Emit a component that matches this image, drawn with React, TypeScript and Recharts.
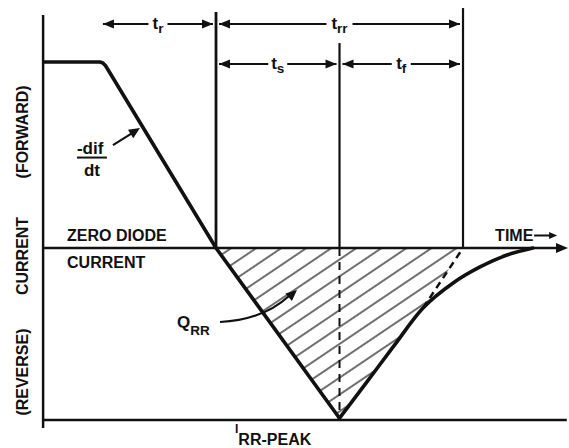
import React from 'react';
import { ComposedChart, Line, Area, XAxis, YAxis, ReferenceLine, ReferenceDot } from 'recharts';

// time is in units of t_rr (0 = current crosses zero), current in units of I_F
const fallData = [
  { t: -0.7, i: 1.0 },
  { t: -0.47, i: 1.0 },
  { t: -0.458, i: 0.995 },
  { t: -0.447, i: 0.98 },
  { t: 0, i: 0 },
  { t: 0.5, i: -0.915 },
];

const recoveryData = [
  { t: 0.5, i: -0.915 },
  { t: 0.611, i: -0.72 },
  { t: 0.717, i: -0.532 },
  { t: 0.838, i: -0.323 },
  { t: 0.96, i: -0.188 },
  { t: 1.069, i: -0.102 },
  { t: 1.178, i: -0.038 },
  { t: 1.283, i: 0 },
];

// straight-line extrapolation to the end of t_f
const extrapolated = [
  { t: 0.838, i: -0.323 },
  { t: 1.0, i: 0 },
];

// stored charge area
const qrrData = [
  { t: 0, i: 0 },
  { t: 0.5, i: -0.915 },
  { t: 0.838, i: -0.323 },
  { t: 1.0, i: 0 },
];

const I_PEAK = -0.915;
const intervalNames = ['r', 'rr', 's', 'f'];
const intervalStart = [-0.47, 0, 0, 0.5];
const intervalEnd = [0, 1.0, 0.5, 1.0];
const intervalRow = [0, 0, 1, 1];

const ROW_Y = [1.204, 0.989];
const X_DOMAIN = [-0.8745, 1.4291];
const Y_DOMAIN = [-1.0753, 1.3333];
const INK = '#111';
const FONT = '"Liberation Sans", Arial, Helvetica, sans-serif';

const txt = { fontFamily: FONT, fontWeight: 700, fill: INK } as const;

const head = (x: number, y: number, dx: number, dy: number, len = 11, half = 4.5) => {
  const d = Math.hypot(dx, dy);
  const ux = dx / d, uy = dy / d;
  const bx = x - ux * len, by = y - uy * len;
  return `${x},${y} ${bx - uy * half},${by + ux * half} ${bx + uy * half},${by - ux * half}`;
};

const dimArrow = (sub: string) => (p: any) => {
  const a = p.x1 + 3;
  const b = p.x2 - 3;
  const y = p.y1;
  const mid = (a + b) / 2;
  const w = sub.length > 1 ? 26 : 19;
  return (
    <g>
      <line x1={a} y1={y} x2={b} y2={y} stroke={INK} strokeWidth={2} />
      <polygon points={head(a, y, -1, 0, 11, 4.5)} fill={INK} />
      <polygon points={head(b, y, 1, 0, 11, 4.5)} fill={INK} />
      <rect x={mid - w / 2} y={y - 11} width={w} height={24} fill="#fff" />
      <text x={mid} y={y + 5} textAnchor="middle" fontSize={17} {...txt}>
        t<tspan fontSize={13.5} dy={4}>{sub}</tspan>
      </text>
    </g>
  );
};

const timeAxis = (p: any) => (
  <g>
    <line x1={p.x1} y1={p.y1} x2={p.x2 - 8} y2={p.y2} stroke={INK} strokeWidth={2.5} />
    <polygon points={head(p.x2, p.y2, 1, 0, 12, 5)} fill={INK} />
  </g>
);

const zeroLabel = (p: any) => (
  <g>
    <text x={p.cx} y={p.cy - 7} fontSize={16} {...txt}>ZERO DIODE</text>
    <text x={p.cx} y={p.cy + 20} fontSize={16} {...txt}>CURRENT</text>
  </g>
);

const timeLabel = (p: any) => (
  <g>
    <text x={p.cx} y={p.cy - 7} fontSize={16} {...txt}>TIME</text>
    <line x1={p.cx + 39} y1={p.cy - 12.5} x2={p.cx + 56} y2={p.cy - 12.5} stroke={INK} strokeWidth={2} />
    <polygon points={head(p.cx + 62, p.cy - 12.5, 1, 0, 8, 3.5)} fill={INK} />
  </g>
);

const slopeLabel = (p: any) => (
  <g>
    <text x={p.cx} y={p.cy} fontSize={17} {...txt}>-dif</text>
    <line x1={p.cx} y1={p.cy + 3.5} x2={p.cx + 30} y2={p.cy + 3.5} stroke={INK} strokeWidth={2} />
    <text x={p.cx + 15} y={p.cy + 22} textAnchor="middle" fontSize={17} {...txt}>dt</text>
    <line x1={p.cx + 36} y1={p.cy - 9} x2={p.cx + 56} y2={p.cy - 21.5} stroke={INK} strokeWidth={2.2} />
    <polygon points={head(p.cx + 63, p.cy - 26, 27, -17, 11, 5)} fill={INK} />
  </g>
);

const qrrLabel = (p: any) => (
  <g>
    <text x={p.cx} y={p.cy} fontSize={17} {...txt}>
      Q<tspan fontSize={13.5} dy={7}>RR</tspan>
    </text>
    <path
      d={`M${p.cx + 43},${p.cy - 6} Q${p.cx + 86},${p.cy - 8} ${p.cx + 112},${p.cy - 32}`}
      fill="none"
      stroke={INK}
      strokeWidth={2.2}
    />
    <polygon points={head(p.cx + 120, p.cy - 38, 30, -26, 11, 5)} fill={INK} />
  </g>
);

const peakLabel = (p: any) => (
  <text x={p.cx} y={p.cy + 13} fontSize={12} {...txt}>
    I<tspan fontSize={16} dy={12}>RR-PEAK</tspan>
  </text>
);

const sideLabel = (s: string) => (p: any) => (
  <text x={p.cx} y={p.cy} textAnchor="middle" fontSize={16} transform={`rotate(-90 ${p.cx} ${p.cy})`} {...txt}>
    {s}
  </text>
);

export default function App() {
  return (
    <div style={{ position: 'absolute', left: 0, top: 0, width: 569, height: 448, background: '#fff' }}>
      <ComposedChart width={569} height={448} margin={{ top: 0, right: 0, bottom: 0, left: 0 }}>
        <defs>
          <pattern id="qrrHatch" patternUnits="userSpaceOnUse" width={14} height={14} patternTransform="rotate(-34)">
            <line x1={-2} y1={13} x2={16} y2={13} stroke="#222" strokeWidth={1.3} />
          </pattern>
        </defs>
        <XAxis type="number" dataKey="t" domain={X_DOMAIN} allowDataOverflow hide />
        <YAxis type="number" dataKey="i" domain={Y_DOMAIN} allowDataOverflow hide />

        <Area
          data={qrrData}
          dataKey="i"
          type="linear"
          baseValue={0}
          fill="url(#qrrHatch)"
          fillOpacity={1}
          stroke="none"
          dot={false}
          activeDot={false}
          isAnimationActive={false}
        />

        {/* axes */}
        <ReferenceLine segment={[{ x: -0.7, y: 1.253 }, { x: -0.7, y: -0.968 }]} stroke={INK} strokeWidth={2.5} />
        <ReferenceLine segment={[{ x: -0.7, y: -0.925 }, { x: 1.42, y: -0.925 }]} stroke={INK} strokeWidth={2.5} />
        <ReferenceLine segment={[{ x: -0.7, y: 0 }, { x: 1.425, y: 0 }]} shape={timeAxis} />

        {/* interval boundaries */}
        <ReferenceLine segment={[{ x: 0, y: 0 }, { x: 0, y: 1.269 }]} stroke={INK} strokeWidth={2.8} />
        <ReferenceLine segment={[{ x: 0.5, y: 0 }, { x: 0.5, y: 1.102 }]} stroke={INK} strokeWidth={2.2} />
        <ReferenceLine segment={[{ x: 1.0, y: 0 }, { x: 1.0, y: 1.29 }]} stroke={INK} strokeWidth={2.2} />
        <ReferenceLine
          segment={[{ x: 0.5, y: 0 }, { x: 0.5, y: I_PEAK }]}
          stroke={INK}
          strokeWidth={2}
          strokeDasharray="8 6"
        />

        {intervalNames.map((n, k) => (
          <ReferenceLine
            key={n}
            segment={[
              { x: intervalStart[k], y: ROW_Y[intervalRow[k]] },
              { x: intervalEnd[k], y: ROW_Y[intervalRow[k]] },
            ]}
            shape={dimArrow(n)}
          />
        ))}

        <Line
          data={extrapolated}
          dataKey="i"
          type="linear"
          stroke={INK}
          strokeWidth={2.5}
          strokeDasharray="7 5"
          dot={false}
          activeDot={false}
          isAnimationActive={false}
        />
        <Line
          data={fallData}
          dataKey="i"
          type="linear"
          stroke={INK}
          strokeWidth={3.6}
          strokeLinejoin="round"
          dot={false}
          activeDot={false}
          isAnimationActive={false}
        />
        <Line
          data={recoveryData}
          dataKey="i"
          type="monotone"
          stroke={INK}
          strokeWidth={3.6}
          strokeLinecap="round"
          dot={false}
          activeDot={false}
          isAnimationActive={false}
        />

        {/* annotations */}
        <ReferenceDot x={-0.603} y={0} r={0} shape={zeroLabel} />
        <ReferenceDot x={1.13} y={0} r={0} shape={timeLabel} />
        <ReferenceDot x={-0.563} y={0.505} r={0} shape={slopeLabel} />
        <ReferenceDot x={-0.158} y={-0.43} r={0} shape={qrrLabel} />
        <ReferenceDot x={0.077} y={-0.925} r={0} shape={peakLabel} />
        <ReferenceDot x={-0.761} y={0.624} r={0} shape={sideLabel('(FORWARD)')} />
        <ReferenceDot x={-0.761} y={-0.043} r={0} shape={sideLabel('CURRENT')} />
        <ReferenceDot x={-0.761} y={-0.667} r={0} shape={sideLabel('(REVERSE)')} />
      </ComposedChart>
    </div>
  );
}
